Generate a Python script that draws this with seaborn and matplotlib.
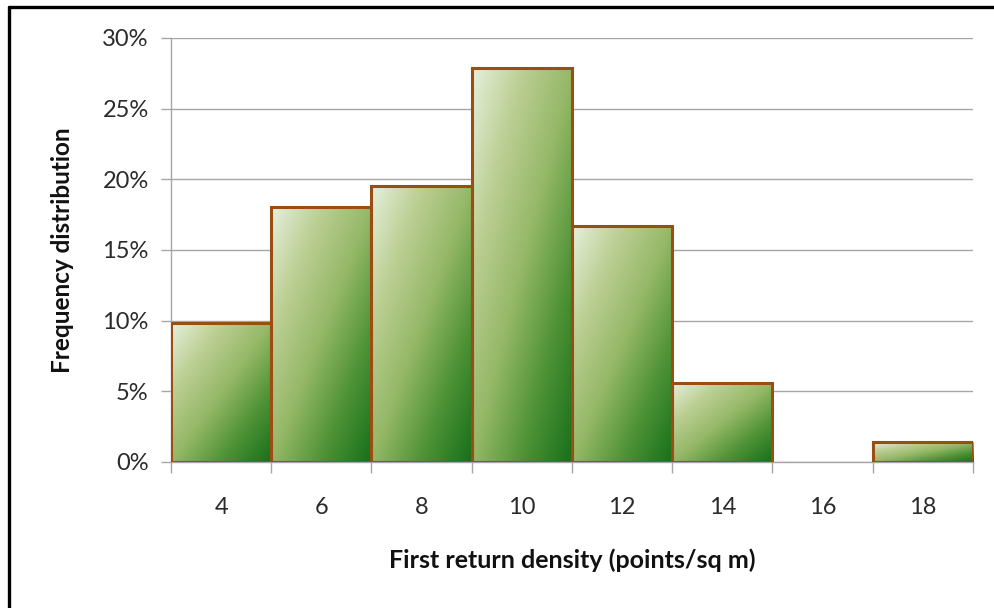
import numpy as np
import pandas as pd
import matplotlib
matplotlib.use("Agg")
import matplotlib.pyplot as plt
from matplotlib.colors import LinearSegmentedColormap
from matplotlib.ticker import PercentFormatter, FixedLocator
from matplotlib.lines import Line2D
import seaborn as sns

# Histogram of first return density
density_bins = ["4", "6", "8", "10", "12", "14", "16", "18"]
frequency = [0.098, 0.1805, 0.195, 0.279, 0.167, 0.056, 0.0, 0.014]
y_ticks = [0.0, 0.05, 0.10, 0.15, 0.20, 0.25, 0.30]

sns.set_theme(style="white")
plt.rcParams["font.family"] = ["Lato", "DejaVu Sans"]

df = pd.DataFrame({"bin": density_bins, "freq": frequency})

fig = plt.figure(figsize=(9.95, 6.08), dpi=100)
ax = fig.add_axes([171 / 995, 1 - 462 / 608, (973 - 171) / 995, (462 - 38) / 608])

sns.barplot(data=df, x="bin", y="freq", width=1.0, ax=ax,
            color="white", edgecolor="#9a4e12", linewidth=2.2, zorder=3)

# Diagonal gradient fill: light top-left to dark green bottom-right
grad_cmap = LinearSegmentedColormap.from_list(
    "greens_diag", ["#e6f0dc", "#bccf94", "#95b867", "#4e9236", "#16701a"])
n = 200
u = np.linspace(0, 1, n)
U, V = np.meshgrid(u, u)  # V: 0 at top row, 1 at bottom
grad = (U + V) / 2.0

for patch in ax.patches:
    x0, y0 = patch.get_x(), patch.get_y()
    w, h = patch.get_width(), patch.get_height()
    if h <= 0:
        patch.set_visible(False)
        continue
    ax.imshow(grad, cmap=grad_cmap, vmin=0, vmax=1, aspect="auto",
              extent=[x0, x0 + w, y0, y0 + h], origin="upper",
              interpolation="bilinear", zorder=2)
    patch.set_facecolor("none")

ax.set_xlim(-0.5, len(density_bins) - 0.5)
ax.set_ylim(0, 0.30)
ax.set_yticks(y_ticks)
ax.yaxis.set_major_formatter(PercentFormatter(xmax=1, decimals=0))

grid_color = "#a6a6a6"
ax.yaxis.grid(True, color=grid_color, linewidth=1.0, zorder=0)
ax.xaxis.grid(False)
ax.set_axisbelow(True)

for side in ["top", "right"]:
    ax.spines[side].set_visible(False)
for side in ["left", "bottom"]:
    ax.spines[side].set_color(grid_color)
    ax.spines[side].set_linewidth(1.0)

ax.tick_params(axis="y", which="major", left=True, length=7, width=1.0,
               color=grid_color, labelsize=17, labelcolor="#2b2b2b", pad=9)
ax.tick_params(axis="x", which="major", bottom=False, length=0,
               labelsize=17, labelcolor="#2b2b2b", pad=25)
ax.xaxis.set_minor_locator(FixedLocator(np.arange(-0.5, len(density_bins), 1.0)))
ax.tick_params(axis="x", which="minor", bottom=True, length=8, width=1.0,
               color=grid_color)

ax.set_xlabel("First return density (points/sq m)", fontsize=18,
              fontweight="bold", color="#111111", labelpad=22)
ax.set_ylabel("Frequency distribution", fontsize=17.5,
              fontweight="bold", color="#111111", labelpad=20)

# Frame lines along the left and top of the figure
fig.add_artist(Line2D([9 / 995, 9 / 995], [0, 1 - 7 / 608], color="black",
                      linewidth=2.4, transform=fig.transFigure))
fig.add_artist(Line2D([9 / 995, 1], [1 - 7 / 608, 1 - 7 / 608], color="black",
                      linewidth=2.4, transform=fig.transFigure))

fig.savefig("out.png", dpi=100)
